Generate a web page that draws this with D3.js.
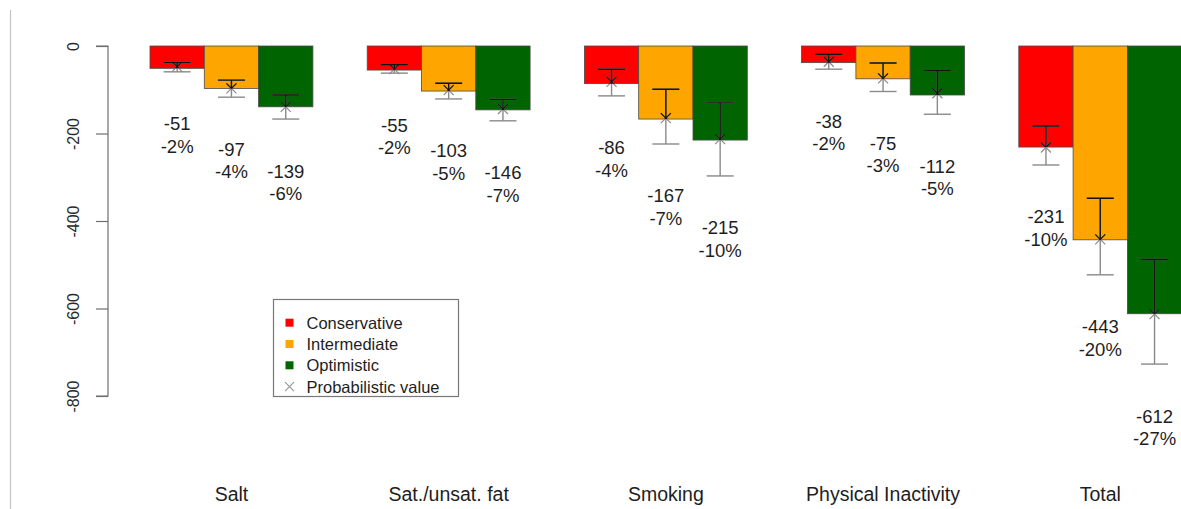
<!DOCTYPE html>
<html>
<head>
<meta charset="utf-8">
<script src="https://cdn.jsdelivr.net/npm/d3@7"></script>
<style>
  html, body { margin: 0; padding: 0; background: #fff; }
  svg { display: block; font-family: "Liberation Sans", Arial, sans-serif; }
</style>
</head>
<body>
<svg id="chart" width="1181" height="509"></svg>
<script>
// Policy scenarios, per risk factor and in total
const categories = ["Salt", "Sat./unsat. fat", "Smoking", "Physical Inactivity", "Total"];
const scenarios = ["Conservative", "Intermediate", "Optimistic"];
const scenarioColors = ["#ff0000", "#ffa500", "#006400"];

// Deterministic estimates (bar heights)
const conservative = [-51, -55, -86, -38, -231];
const intermediate = [-97, -103, -167, -75, -443];
const optimistic   = [-139, -146, -215, -112, -612];

// Relative change labels
const conservativePct = ["-2%", "-2%", "-4%", "-2%", "-10%"];
const intermediatePct = ["-4%", "-5%", "-7%", "-3%", "-20%"];
const optimisticPct   = ["-6%", "-7%", "-10%", "-5%", "-27%"];

// Probabilistic values with uncertainty interval
const conservativeProb  = [-47, -53, -82, -36, -232];
const conservativeLower = [-59, -62, -114, -53, -272];
const conservativeUpper = [-38, -43, -53, -19, -183];
const intermediateProb  = [-97, -101, -165, -74, -442];
const intermediateLower = [-117, -121, -224, -104, -523];
const intermediateUpper = [-78, -85, -99, -39, -348];
const optimisticProb    = [-139, -144, -213, -108, -613];
const optimisticLower   = [-167, -171, -297, -156, -727];
const optimisticUpper   = [-112, -122, -130, -56, -488];

const yTicks = [0, -200, -400, -600, -800];
const yTickLabels = ["0", "-200", "-400", "-600", "-800"];

const valueSets = [conservative, intermediate, optimistic];
const pctSets = [conservativePct, intermediatePct, optimisticPct];
const probSets = [conservativeProb, intermediateProb, optimisticProb];
const lowerSets = [conservativeLower, intermediateLower, optimisticLower];
const upperSets = [conservativeUpper, intermediateUpper, optimisticUpper];

const rows = [];
categories.forEach((cat, g) => {
  scenarios.forEach((s, k) => {
    rows.push({
      cat, g, k,
      value: valueSets[k][g],
      pct: pctSets[k][g],
      prob: probSets[k][g],
      lower: lowerSets[k][g],
      upper: upperSets[k][g]
    });
  });
});

const svg = d3.select("#chart");

// Bar slots: three bars per group, one empty slot between groups
const x = d3.scaleLinear().domain([0, 19]).range([150, 1181.7]);
const y = d3.scaleLinear().domain([0, -800]).range([46, 396]);
const slot = r => 4 * r.g + r.k;
const bw = x(1) - x(0);

// Frame line on the left
svg.append("line")
  .attr("x1", 10.5).attr("x2", 10.5).attr("y1", 10).attr("y2", 509)
  .attr("stroke", "#c4c4c4").attr("stroke-width", 1.2);

// Y axis (ticks and spine from d3, labels rotated like base graphics)
const yAxis = d3.axisLeft(y).tickValues(yTicks).tickSize(12).tickFormat((d, i) => yTickLabels[i]);
const ag = svg.append("g").attr("transform", "translate(108,0)").call(yAxis);
ag.select(".domain").attr("stroke", "#6e6e6e").attr("stroke-width", 1.2)
  .attr("d", `M-12,${y(0)}H0V${y(-800)}H-12`);
ag.selectAll(".tick line").attr("stroke", "#6e6e6e").attr("stroke-width", 1.2);
ag.selectAll(".tick text").remove();
ag.selectAll(".tick").append("text")
  .attr("transform", "translate(-29.5,0) rotate(-90)")
  .attr("text-anchor", "middle")
  .attr("font-size", "16px")
  .attr("fill", "#2a2a2a")
  .attr("font-family", "Liberation Sans, Arial, sans-serif")
  .text((d, i) => yTickLabels[i]);

// Bars
svg.append("g").selectAll("rect").data(rows).join("rect")
  .attr("x", r => x(slot(r)))
  .attr("width", bw)
  .attr("y", y(0))
  .attr("height", r => y(r.value) - y(0))
  .attr("fill", r => scenarioColors[r.k])
  .attr("stroke", "#4a4a4a")
  .attr("stroke-width", 0.8);

// Clip region covering the bars, where the intervals read darker
const defs = svg.append("defs");
const clip = defs.append("clipPath").attr("id", "barArea");
rows.forEach(r => {
  clip.append("rect")
    .attr("x", x(slot(r))).attr("width", bw)
    .attr("y", y(0)).attr("height", y(r.value) - y(0));
});

// Uncertainty intervals and probabilistic values
const cap = 13.5;
function drawIntervals(g, col) {
  rows.forEach(r => {
    const cx = x(slot(r)) + bw / 2;
    g.append("line").attr("x1", cx).attr("x2", cx)
      .attr("y1", y(r.upper)).attr("y2", y(r.lower))
      .attr("stroke", col).attr("stroke-width", 1.4);
    [r.upper, r.lower].forEach(v => {
      g.append("line").attr("x1", cx - cap).attr("x2", cx + cap)
        .attr("y1", y(v)).attr("y2", y(v))
        .attr("stroke", col).attr("stroke-width", 1.4);
    });
    const py = y(r.prob), m = 5;
    g.append("path")
      .attr("d", `M${cx - m},${py - m}L${cx + m},${py + m}M${cx - m},${py + m}L${cx + m},${py - m}`)
      .attr("stroke", col).attr("stroke-width", 1.2).attr("fill", "none");
  });
}
drawIntervals(svg.append("g"), "#8a8a8a");
drawIntervals(svg.append("g").attr("clip-path", "url(#barArea)"), "#141414");

// Value and percentage labels below each interval
const lg = svg.append("g").attr("font-size", 18.5).attr("fill", "#1e1e1e").attr("text-anchor", "middle");
rows.forEach(r => {
  const cx = x(slot(r)) + bw / 2;
  const c = y(r.lower - 145);
  lg.append("text").attr("x", cx).attr("y", c - 5).text(r.value);
  lg.append("text").attr("x", cx).attr("y", c + 17.5).text(r.pct);
});

// Category labels
svg.append("g").selectAll("text").data(categories).join("text")
  .attr("x", (d, g) => x(4 * g + 1.5))
  .attr("y", 501)
  .attr("text-anchor", "middle")
  .attr("font-size", 19.5)
  .attr("fill", "#1e1e1e")
  .text(d => d);

// Legend
const leg = svg.append("g");
leg.append("rect").attr("x", 273.5).attr("y", 299.5).attr("width", 185).attr("height", 97)
  .attr("fill", "#fff").attr("stroke", "#777").attr("stroke-width", 1.2);
const legendItems = scenarios.concat(["Probabilistic value"]);
legendItems.forEach((name, i) => {
  const cy = 322.7 + i * 21.3;
  if (i < 3) {
    leg.append("rect").attr("x", 285.5).attr("y", cy - 4).attr("width", 8).attr("height", 8)
      .attr("fill", scenarioColors[i]);
  } else {
    const m = 4.5, cx = 289.5;
    leg.append("path")
      .attr("d", `M${cx - m},${cy - m}L${cx + m},${cy + m}M${cx - m},${cy + m}L${cx + m},${cy - m}`)
      .attr("stroke", "#999").attr("stroke-width", 1.2);
  }
  leg.append("text").attr("x", 306.5).attr("y", cy + 6)
    .attr("font-size", 16.5).attr("fill", "#1e1e1e").text(name);
});
</script>
</body>
</html>
